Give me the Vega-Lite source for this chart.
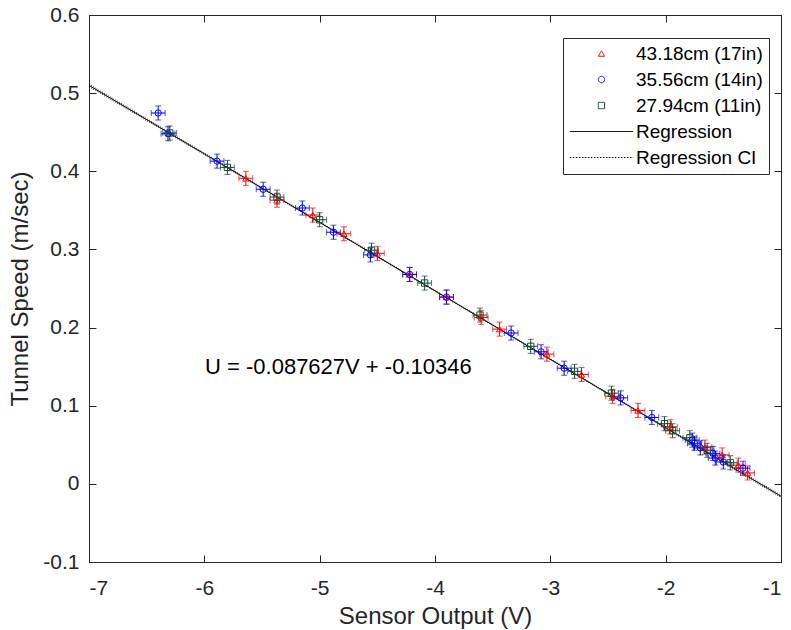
{
  "$schema": "https://vega.github.io/schema/vega-lite/v6.json",
  "width": 692,
  "height": 547,
  "autosize": "none",
  "padding": {"left": 89, "top": 15, "right": 10, "bottom": 68},
  "background": "white",
  "config": {
    "view": {"stroke": "#262626", "strokeWidth": 1},
    "font": "Liberation Sans",
    "axis": {
      "grid": false,
      "domainColor": "#262626",
      "tickColor": "#262626",
      "labelColor": "#262626",
      "titleColor": "#262626",
      "labelFont": "Liberation Sans",
      "titleFont": "Liberation Sans",
      "labelFontSize": 21,
      "titleFontSize": 24,
      "titleFontWeight": "normal",
      "tickSize": -7,
      "labelPadding": 22
    }
  },
  "datasets": {
    "points": [
      {"series": "43.18cm (17in)", "V": -5.64, "U": 0.391, "dV": 0.06, "dU": 0.009},
      {"series": "43.18cm (17in)", "V": -5.37, "U": 0.363, "dV": 0.06, "dU": 0.009},
      {"series": "43.18cm (17in)", "V": -5.06, "U": 0.344, "dV": 0.06, "dU": 0.009},
      {"series": "43.18cm (17in)", "V": -4.79, "U": 0.320, "dV": 0.06, "dU": 0.009},
      {"series": "43.18cm (17in)", "V": -4.50, "U": 0.295, "dV": 0.06, "dU": 0.009},
      {"series": "43.18cm (17in)", "V": -4.22, "U": 0.268, "dV": 0.06, "dU": 0.009},
      {"series": "43.18cm (17in)", "V": -3.90, "U": 0.239, "dV": 0.06, "dU": 0.009},
      {"series": "43.18cm (17in)", "V": -3.60, "U": 0.213, "dV": 0.06, "dU": 0.009},
      {"series": "43.18cm (17in)", "V": -3.44, "U": 0.198, "dV": 0.06, "dU": 0.009},
      {"series": "43.18cm (17in)", "V": -3.03, "U": 0.166, "dV": 0.06, "dU": 0.009},
      {"series": "43.18cm (17in)", "V": -2.73, "U": 0.140, "dV": 0.06, "dU": 0.009},
      {"series": "43.18cm (17in)", "V": -2.46, "U": 0.112, "dV": 0.06, "dU": 0.009},
      {"series": "43.18cm (17in)", "V": -2.24, "U": 0.094, "dV": 0.06, "dU": 0.009},
      {"series": "43.18cm (17in)", "V": -1.96, "U": 0.073, "dV": 0.06, "dU": 0.009},
      {"series": "43.18cm (17in)", "V": -1.66, "U": 0.047, "dV": 0.06, "dU": 0.009},
      {"series": "43.18cm (17in)", "V": -1.51, "U": 0.037, "dV": 0.06, "dU": 0.009},
      {"series": "43.18cm (17in)", "V": -1.37, "U": 0.024, "dV": 0.06, "dU": 0.009},
      {"series": "43.18cm (17in)", "V": -1.29, "U": 0.014, "dV": 0.06, "dU": 0.009},
      {"series": "35.56cm (14in)", "V": -6.40, "U": 0.4746, "dV": 0.06, "dU": 0.009},
      {"series": "35.56cm (14in)", "V": -6.315, "U": 0.448, "dV": 0.06, "dU": 0.009},
      {"series": "35.56cm (14in)", "V": -5.89, "U": 0.413, "dV": 0.06, "dU": 0.009},
      {"series": "35.56cm (14in)", "V": -5.49, "U": 0.377, "dV": 0.06, "dU": 0.009},
      {"series": "35.56cm (14in)", "V": -5.15, "U": 0.353, "dV": 0.06, "dU": 0.009},
      {"series": "35.56cm (14in)", "V": -4.88, "U": 0.322, "dV": 0.06, "dU": 0.009},
      {"series": "35.56cm (14in)", "V": -4.56, "U": 0.293, "dV": 0.06, "dU": 0.009},
      {"series": "35.56cm (14in)", "V": -4.22, "U": 0.268, "dV": 0.06, "dU": 0.009},
      {"series": "35.56cm (14in)", "V": -3.90, "U": 0.239, "dV": 0.06, "dU": 0.009},
      {"series": "35.56cm (14in)", "V": -3.34, "U": 0.193, "dV": 0.06, "dU": 0.009},
      {"series": "35.56cm (14in)", "V": -3.08, "U": 0.169, "dV": 0.06, "dU": 0.009},
      {"series": "35.56cm (14in)", "V": -2.88, "U": 0.148, "dV": 0.06, "dU": 0.009},
      {"series": "35.56cm (14in)", "V": -2.39, "U": 0.110, "dV": 0.06, "dU": 0.009},
      {"series": "35.56cm (14in)", "V": -2.12, "U": 0.085, "dV": 0.06, "dU": 0.009},
      {"series": "35.56cm (14in)", "V": -1.77, "U": 0.056, "dV": 0.06, "dU": 0.009},
      {"series": "35.56cm (14in)", "V": -1.75, "U": 0.052, "dV": 0.06, "dU": 0.009},
      {"series": "35.56cm (14in)", "V": -1.70, "U": 0.046, "dV": 0.06, "dU": 0.009},
      {"series": "35.56cm (14in)", "V": -1.59, "U": 0.039, "dV": 0.06, "dU": 0.009},
      {"series": "35.56cm (14in)", "V": -1.57, "U": 0.033, "dV": 0.06, "dU": 0.009},
      {"series": "35.56cm (14in)", "V": -1.50, "U": 0.028, "dV": 0.06, "dU": 0.009},
      {"series": "35.56cm (14in)", "V": -1.33, "U": 0.020, "dV": 0.06, "dU": 0.009},
      {"series": "27.94cm (11in)", "V": -6.30, "U": 0.449, "dV": 0.06, "dU": 0.009},
      {"series": "27.94cm (11in)", "V": -5.80, "U": 0.405, "dV": 0.06, "dU": 0.009},
      {"series": "27.94cm (11in)", "V": -5.37, "U": 0.367, "dV": 0.06, "dU": 0.009},
      {"series": "27.94cm (11in)", "V": -5.00, "U": 0.338, "dV": 0.06, "dU": 0.009},
      {"series": "27.94cm (11in)", "V": -4.55, "U": 0.299, "dV": 0.06, "dU": 0.009},
      {"series": "27.94cm (11in)", "V": -4.09, "U": 0.257, "dV": 0.06, "dU": 0.009},
      {"series": "27.94cm (11in)", "V": -3.61, "U": 0.216, "dV": 0.06, "dU": 0.009},
      {"series": "27.94cm (11in)", "V": -3.17, "U": 0.176, "dV": 0.06, "dU": 0.009},
      {"series": "27.94cm (11in)", "V": -2.79, "U": 0.144, "dV": 0.06, "dU": 0.009},
      {"series": "27.94cm (11in)", "V": -2.47, "U": 0.116, "dV": 0.06, "dU": 0.009},
      {"series": "27.94cm (11in)", "V": -2.01, "U": 0.077, "dV": 0.06, "dU": 0.009},
      {"series": "27.94cm (11in)", "V": -1.94, "U": 0.068, "dV": 0.06, "dU": 0.009},
      {"series": "27.94cm (11in)", "V": -1.79, "U": 0.059, "dV": 0.06, "dU": 0.009},
      {"series": "27.94cm (11in)", "V": -1.64, "U": 0.043, "dV": 0.06, "dU": 0.009},
      {"series": "27.94cm (11in)", "V": -1.44, "U": 0.027, "dV": 0.06, "dU": 0.009}
    ],
    "fit": [
      {"V": -7, "U": 0.50993},
      {"V": -1, "U": -0.01583}
    ],
    "ci": [
      {"bound": "upper", "V": -7, "U": 0.5115},
      {"bound": "upper", "V": -5.5, "U": 0.3793},
      {"bound": "upper", "V": -4, "U": 0.2476},
      {"bound": "upper", "V": -2.5, "U": 0.1162},
      {"bound": "upper", "V": -1, "U": -0.0143},
      {"bound": "lower", "V": -7, "U": 0.5083},
      {"bound": "lower", "V": -5.5, "U": 0.3777},
      {"bound": "lower", "V": -4, "U": 0.2465},
      {"bound": "lower", "V": -2.5, "U": 0.1150},
      {"bound": "lower", "V": -1, "U": -0.0174}
    ]
  },
  "layer": [
    {
      "data": {"name": "ci"},
      "mark": {"type": "line", "strokeDash": [1, 1.5], "strokeWidth": 0.8, "color": "#000000", "clip": true},
      "encoding": {
        "x": {"field": "V", "type": "quantitative", "scale": {"domain": [-7, -1], "nice": false, "zero": false},
          "axis": {"orient": "bottom", "title": "Sensor Output (V)", "values": [-7, -6, -5, -4, -3, -2, -1], "labelExpr": "replace(datum.label, '\u2212', '-')", "titlePadding": 6}},
        "y": {"field": "U", "type": "quantitative", "scale": {"domain": [-0.1, 0.6], "nice": false, "zero": false},
          "axis": {"orient": "left", "title": "Tunnel Speed (m/sec)", "values": [-0.1, 0, 0.1, 0.2, 0.3, 0.4, 0.5, 0.6], "labelExpr": "replace(format(datum.value, '.1~f'), '\u2212', '-')", "labelPadding": 17, "titlePadding": 10}},
        "detail": {"field": "bound"}
      }
    },
    {
      "data": {"name": "fit"},
      "mark": {"type": "line", "strokeWidth": 1, "color": "#000000", "clip": true},
      "encoding": {
        "x": {"field": "V", "type": "quantitative", "scale": {"domain": [-7, -1], "nice": false, "zero": false},
          "axis": {"orient": "top", "title": null, "labels": false, "values": [-7, -6, -5, -4, -3, -2, -1]}},
        "y": {"field": "U", "type": "quantitative", "scale": {"domain": [-0.1, 0.6], "nice": false, "zero": false},
          "axis": {"orient": "right", "title": null, "labels": false, "values": [-0.1, 0, 0.1, 0.2, 0.3, 0.4, 0.5, 0.6]}}
      }
    },
    {
      "data": {"name": "points"},
      "transform": [{"filter": "datum.series == '43.18cm (17in)'"}],
      "mark": {"type": "errorbar", "color": "#ff0000", "ticks": {"size": 6}},
      "encoding": {
        "x": {"field": "V", "type": "quantitative", "scale": {"domain": [-7, -1], "nice": false, "zero": false}, "axis": null},
        "xError": {"field": "dV"},
        "y": {"field": "U", "type": "quantitative", "scale": {"domain": [-0.1, 0.6], "nice": false, "zero": false}, "axis": null}
      }
    },
    {
      "data": {"name": "points"},
      "transform": [{"filter": "datum.series == '43.18cm (17in)'"}],
      "mark": {"type": "errorbar", "color": "#ff0000", "ticks": {"size": 6}},
      "encoding": {
        "y": {"field": "U", "type": "quantitative", "scale": {"domain": [-0.1, 0.6], "nice": false, "zero": false}, "axis": null},
        "yError": {"field": "dU"},
        "x": {"field": "V", "type": "quantitative", "scale": {"domain": [-7, -1], "nice": false, "zero": false}, "axis": null}
      }
    },
    {
      "data": {"name": "points"},
      "transform": [{"filter": "datum.series == '35.56cm (14in)'"}],
      "mark": {"type": "errorbar", "color": "#0000ff", "ticks": {"size": 6}},
      "encoding": {
        "x": {"field": "V", "type": "quantitative", "scale": {"domain": [-7, -1], "nice": false, "zero": false}, "axis": null},
        "xError": {"field": "dV"},
        "y": {"field": "U", "type": "quantitative", "scale": {"domain": [-0.1, 0.6], "nice": false, "zero": false}, "axis": null}
      }
    },
    {
      "data": {"name": "points"},
      "transform": [{"filter": "datum.series == '35.56cm (14in)'"}],
      "mark": {"type": "errorbar", "color": "#0000ff", "ticks": {"size": 6}},
      "encoding": {
        "y": {"field": "U", "type": "quantitative", "scale": {"domain": [-0.1, 0.6], "nice": false, "zero": false}, "axis": null},
        "yError": {"field": "dU"},
        "x": {"field": "V", "type": "quantitative", "scale": {"domain": [-7, -1], "nice": false, "zero": false}, "axis": null}
      }
    },
    {
      "data": {"name": "points"},
      "transform": [{"filter": "datum.series == '27.94cm (11in)'"}],
      "mark": {"type": "errorbar", "color": "#124a30", "ticks": {"size": 6}},
      "encoding": {
        "x": {"field": "V", "type": "quantitative", "scale": {"domain": [-7, -1], "nice": false, "zero": false}, "axis": null},
        "xError": {"field": "dV"},
        "y": {"field": "U", "type": "quantitative", "scale": {"domain": [-0.1, 0.6], "nice": false, "zero": false}, "axis": null}
      }
    },
    {
      "data": {"name": "points"},
      "transform": [{"filter": "datum.series == '27.94cm (11in)'"}],
      "mark": {"type": "errorbar", "color": "#124a30", "ticks": {"size": 6}},
      "encoding": {
        "y": {"field": "U", "type": "quantitative", "scale": {"domain": [-0.1, 0.6], "nice": false, "zero": false}, "axis": null},
        "yError": {"field": "dU"},
        "x": {"field": "V", "type": "quantitative", "scale": {"domain": [-7, -1], "nice": false, "zero": false}, "axis": null}
      }
    },
    {
      "data": {"name": "points"},
      "mark": {"type": "point", "filled": false, "strokeWidth": 1, "size": 40, "opacity": 1},
      "encoding": {
        "x": {"field": "V", "type": "quantitative", "scale": {"domain": [-7, -1], "nice": false, "zero": false}, "axis": null},
        "y": {"field": "U", "type": "quantitative", "scale": {"domain": [-0.1, 0.6], "nice": false, "zero": false}, "axis": null},
        "color": {"field": "series", "type": "nominal",
          "scale": {"domain": ["43.18cm (17in)", "35.56cm (14in)", "27.94cm (11in)", "Regression", "Regression CI"], "range": ["#ff0000", "#0000ff", "#124a30", "#000000", "#000000"]},
          "legend": {
            "title": null, "orient": "none", "legendX": 474, "legendY": 23,
            "strokeColor": "#262626", "fillColor": "white", "padding": 6,
            "labelFontSize": 19, "labelColor": "#000000", "labelFont": "Liberation Sans",
            "rowPadding": 6, "symbolSize": 40, "symbolStrokeWidth": 1,
            "symbolOffset": 23, "labelOffset": 25,
            "symbolDash": {"expr": "datum.value == 'Regression CI' ? [1.5, 1.5] : [1, 0]"}
          }},
        "shape": {"field": "series", "type": "nominal",
          "scale": {"domain": ["43.18cm (17in)", "35.56cm (14in)", "27.94cm (11in)", "Regression", "Regression CI"], "range": ["triangle-up", "circle", "square", "M-10,0L10,0", "M-10,0L10,0"]},
          "legend": {
            "title": null, "orient": "none", "legendX": 474, "legendY": 23,
            "strokeColor": "#262626", "fillColor": "white", "padding": 6,
            "labelFontSize": 19, "labelColor": "#000000", "labelFont": "Liberation Sans",
            "rowPadding": 6, "symbolSize": 40, "symbolStrokeWidth": 1,
            "symbolOffset": 23, "labelOffset": 25,
            "symbolDash": {"expr": "datum.value == 'Regression CI' ? [1.5, 1.5] : [1, 0]"}
          }}
      }
    },
    {
      "data": {"values": [{"label": "U = -0.087627V + -0.10346"}]},
      "mark": {"type": "text", "align": "left", "baseline": "middle", "fontSize": 22, "font": "Liberation Sans", "color": "#000000"},
      "encoding": {
        "x": {"datum": -5.994, "type": "quantitative", "scale": {"domain": [-7, -1], "nice": false, "zero": false}, "axis": null},
        "y": {"datum": 0.1495, "type": "quantitative", "scale": {"domain": [-0.1, 0.6], "nice": false, "zero": false}, "axis": null},
        "text": {"field": "label"}
      }
    }
  ],
  "resolve": {"axis": {"x": "independent", "y": "independent"}}
}
